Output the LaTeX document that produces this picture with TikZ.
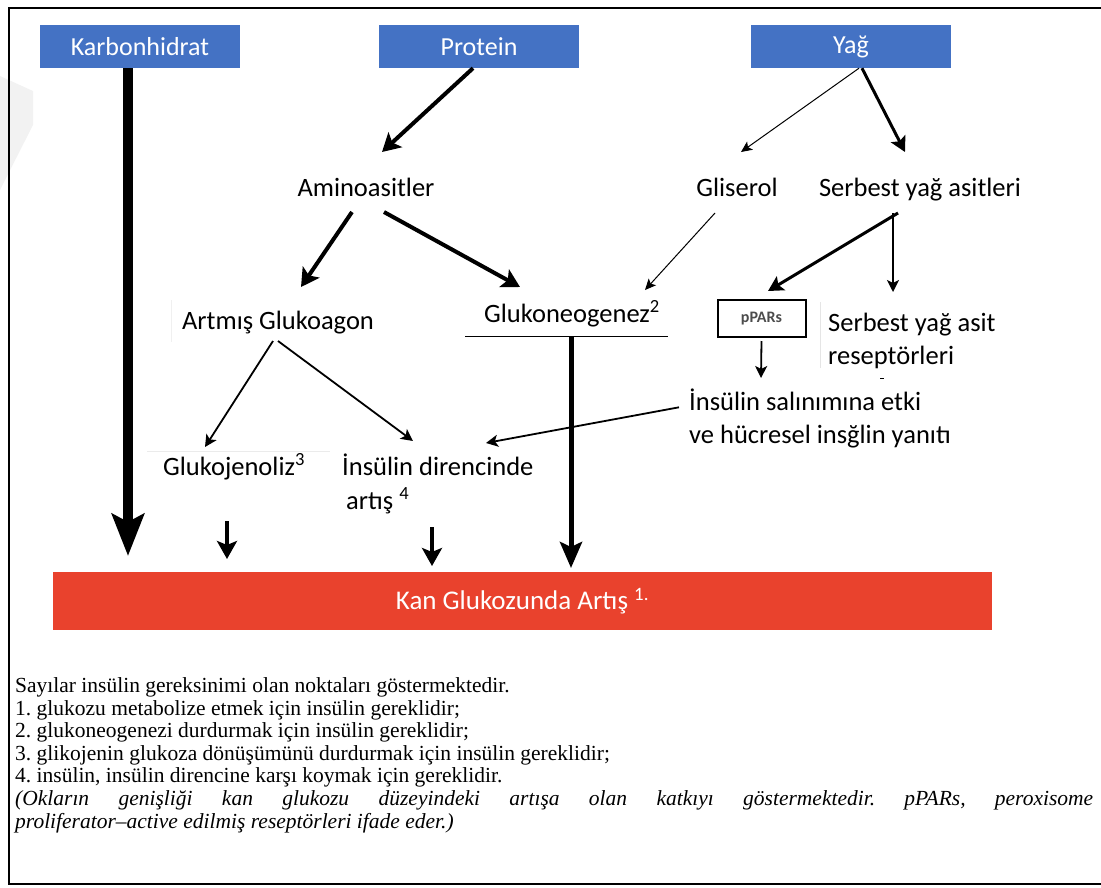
\documentclass[tikz,border=0pt]{standalone}
\usepackage{fontspec}
\setmainfont{Liberation Serif}
\newfontfamily\diag{Carlito}
\usetikzlibrary{arrows.meta}
\definecolor{boxblue}{RGB}{68,114,196}
\definecolor{barred}{RGB}{233,66,45}
\begin{document}
\begin{tikzpicture}[x=1pt,y=-1pt,
  src/.style={fill=boxblue,text=white,minimum width=200pt,minimum height=43pt,inner sep=0pt,font=\diag\fontsize{26}{30}\selectfont},
  lbl/.style={inner sep=0pt,anchor=base,font=\diag\fontsize{26.5}{33}\selectfont},
  lblw/.style={inner sep=0pt,anchor=base west,font=\diag\fontsize{26.5}{33}\selectfont},
  thickarr/.style={line width=4pt,-{Stealth[length=18pt,width=20pt,inset=4pt]}},
  medarr/.style={line width=3pt,-{Stealth[length=15pt,width=16pt,inset=3pt]}},
  thinarr/.style={line width=1.8pt,-{Stealth[length=12pt,width=12pt,inset=3pt]}},
  hairarr/.style={line width=1pt,-{Stealth[length=11pt,width=10pt,inset=2.5pt]}},
  note/.style={anchor=base west,inner sep=0pt,font=\fontsize{21.5}{23}\selectfont}
]
\useasboundingbox (0,0) rectangle (1101,887);
% faint watermark
\fill[black!5] (0,76) -- (33,91) -- (33,125) -- (0,190) -- cycle;
% frame
\draw[line width=2.2pt] (1105,8) -- (9,8) -- (9,884) -- (1105,884);
% source boxes
\node[src] (karb) at (140,46.5) {Karbonhidrat};
\node[src] (prot) at (479,46.5) {Protein};
\node[src] (yag) at (851,46.5) {Yağ};
% labels
\node[lbl] (amino) at (366,196) {Aminoasitler};
\node[lbl] (glis) at (737,196) {Gliserol};
\node[lbl] (sya) at (920,196) {Serbest yağ asitleri};
\node[lbl] (artg) at (278,329) {Artmış Glukoagon};
\node[lblw] (gng) at (484,322) {Glukoneogenez\textsuperscript{2}};
\node[draw=black,line width=2pt,minimum width=88pt,minimum height=37pt,inner sep=0pt,font=\diag\bfseries\fontsize{16}{18}\selectfont,text=black!70] (ppar) at (761.5,318.5) {pPARs};
\node[lblw] (syar1) at (828,331) {Serbest yağ asit};
\node[lblw] (syar2) at (828,364) {reseptörleri};
\node[lblw] (ins1) at (689,410) {İnsülin salınımına etki};
\node[lblw] (ins2) at (689,443) {ve hücresel insğlin yanıtı};
\node[lblw] (glj) at (163,475) {Glukojenoliz\textsuperscript{3}};
\node[lblw] (idr1) at (342,475) {İnsülin direncinde};
\node[lblw] (idr2) at (346,509) {artış \textsuperscript{4}};
% red bar
\node[fill=barred,minimum width=939pt,minimum height=58pt,inner sep=0pt,text=white,font=\diag\fontsize{27}{32}\selectfont] (kan) at (522.5,601) {Kan Glukozunda Artış \textsuperscript{1.}};
% underline / faint lines
\draw[line width=0.8pt] (465,336) -- (668,336);
\draw[black!10,line width=0.8pt] (820,302) -- (820,368);
\draw[black!6,line width=0.8pt] (171,300) -- (171,342);
\draw[black!8,line width=0.8pt] (147,451) -- (330,451);
\draw[line width=1pt] (880,378) -- (884,378);
% coordinates
\coordinate (karbS) at (128,68);
\coordinate (karbT) at (128,556);
\coordinate (glkS) at (571,337);
\coordinate (glkT) at (571,568);
\coordinate (s1) at (227,521); \coordinate (t1) at (227,559);
\coordinate (s2) at (432,527); \coordinate (t2) at (432,566);
% arrows
\draw[line width=10pt,-{Stealth[length=42pt,width=32pt,inset=8pt]}] (karbS) -- (karbT);
\draw[line width=5pt,-{Stealth[length=26pt,width=22pt,inset=5pt]}] (glkS) -- (glkT);
\draw[thickarr] (s1) -- (t1);
\draw[thickarr] (s2) -- (t2);
\draw[thickarr] (prot.south) ++(-6,0) -- (382,152);
\draw[hairarr] (yag.south) ++(8,0) -- (741,152);
\draw[medarr] (yag.south) ++(11,0) -- (905,152);
\draw[thickarr] (352,212) -- (301,287);
\draw[thickarr] (384,212) -- (520,287);
\draw[hairarr] (715,213) -- (645,290);
\draw[medarr] (898,213) -- (768,291);
\draw[thinarr] (893,213) -- (893,292);
\draw[thinarr] (ppar.south) ++(0,3) -- (761,378);
\draw[thinarr] (273,341) -- (205,447);
\draw[thinarr] (278,341) -- (413,441);
\draw[thinarr] (ins1.west) ++(-10,8) -- (486,443);
% notes
\frenchspacing
\node[note] (n0) at (15,692) {Sayılar insülin gereksinimi olan noktaları göstermektedir.};
\node[note] (n1) at (15,715) {1. glukozu metabolize etmek için insülin gereklidir;};
\node[note] (n2) at (15,737) {2. glukoneogenezi durdurmak için insülin gereklidir;};
\node[note] (n3) at (15,760) {3. glikojenin glukoza dönüşümünü durdurmak için insülin gereklidir;};
\node[note] (n4) at (15,782) {4. insülin, insülin direncine karşı koymak için gereklidir.};
\node[note] (n5) at (15,805) {\itshape\frenchspacing\hbox to 1078pt{(Okların genişliği kan glukozu düzeyindeki artışa olan katkıyı göstermektedir. pPARs, peroxisome}};
\node[note] (n6) at (15,828) {\itshape proliferator–active edilmiş reseptörleri ifade eder.)};
\end{tikzpicture}
\end{document}
